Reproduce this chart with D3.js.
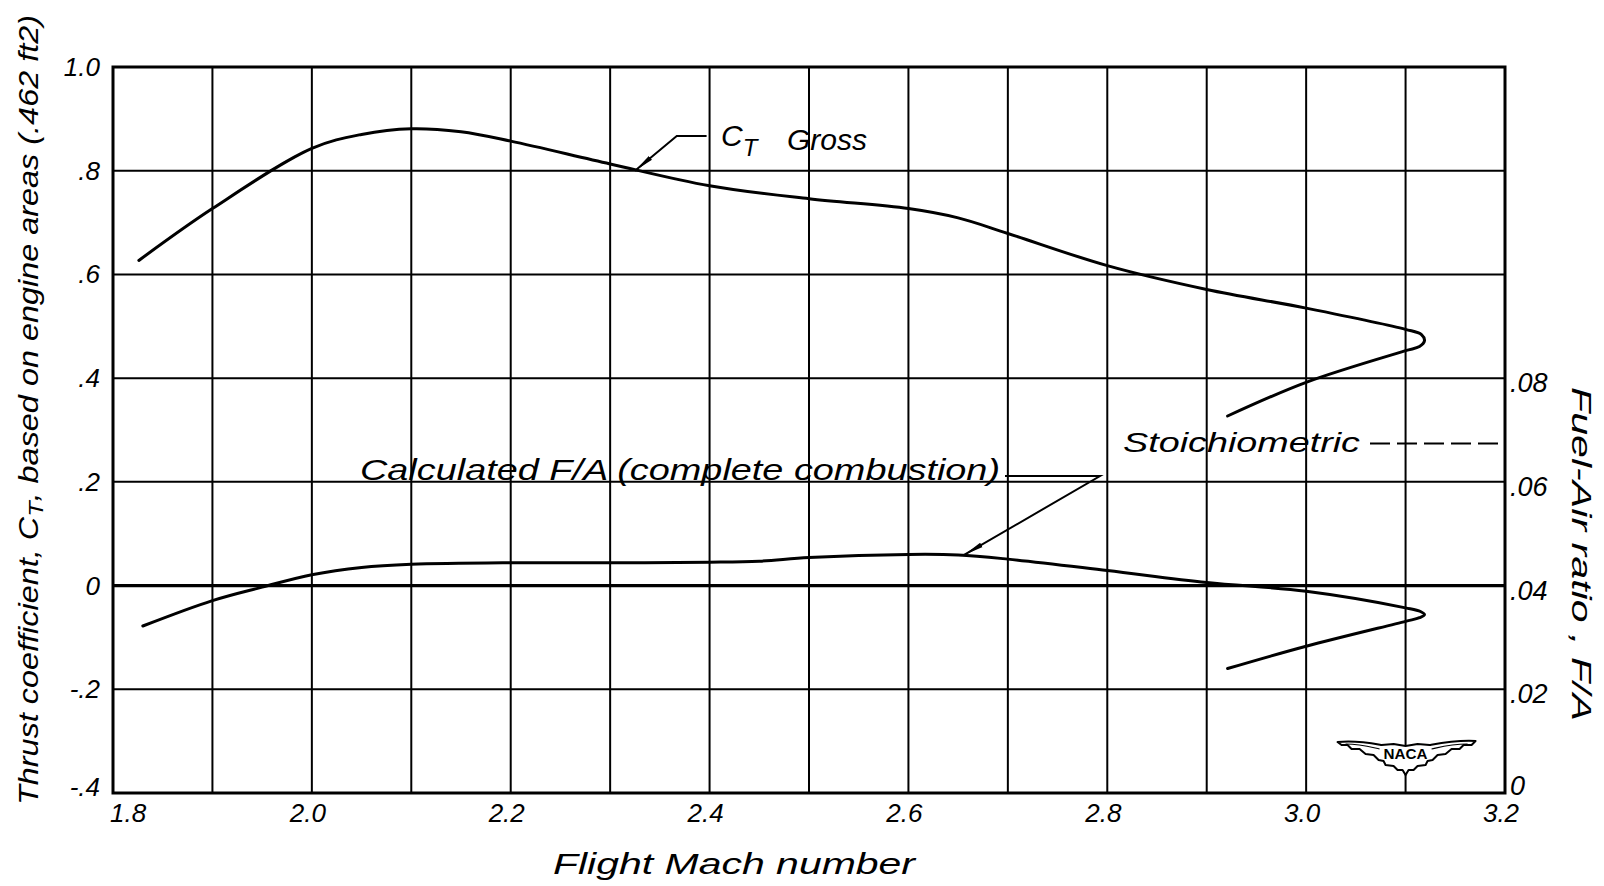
<!DOCTYPE html>
<html>
<head>
<meta charset="utf-8">
<script src="https://cdn.jsdelivr.net/npm/d3@7"></script>
<style>
  html, body { margin: 0; padding: 0; background: #fff; }
  svg { display: block; }
  text { font-family: "Liberation Sans", "DejaVu Sans", sans-serif; font-style: italic; fill: #000; }
</style>
</head>
<body>
<svg id="chart" width="1604" height="886"></svg>
<script>
// ---------- data ----------
// C_T gross (left axis), traced along the drawn path (it folds back near M = 3.12)
const ctMach  = [1.826, 1.9, 2.0, 2.05, 2.1, 2.15, 2.2, 2.3, 2.4, 2.5, 2.6, 2.65, 2.7, 2.8, 2.9, 3.0, 3.1, 3.116, 3.119, 3.114, 3.1, 3.0, 2.921];
const ctGross = [0.627, 0.727, 0.843, 0.870, 0.881, 0.875, 0.857, 0.813, 0.771, 0.746, 0.727, 0.709, 0.679, 0.617, 0.571, 0.535, 0.494, 0.484, 0.472, 0.461, 0.453, 0.392, 0.327];

// Calculated fuel-air ratio (right axis), traced along the drawn path
const faMach  = [1.830, 1.9, 1.95, 2.0, 2.05, 2.1, 2.2, 2.3, 2.4, 2.45, 2.5, 2.6, 2.65, 2.7, 2.8, 2.9, 3.0, 3.1, 3.115, 3.119, 3.114, 3.1, 3.0, 2.921];
const faRatio = [0.0322, 0.0371, 0.0397, 0.0421, 0.0435, 0.0441, 0.0444, 0.0444, 0.0445, 0.0447, 0.0454, 0.0460, 0.0459, 0.0451, 0.0429, 0.0406, 0.0389, 0.0357, 0.0350, 0.0344, 0.0338, 0.0331, 0.0283, 0.0240];

const stoichFA = 0.0674;

// ---------- ticks ----------
const xGrid       = [1.8, 1.9, 2.0, 2.1, 2.2, 2.3, 2.4, 2.5, 2.6, 2.7, 2.8, 2.9, 3.0, 3.1, 3.2];
const xTickValues = [1.8, 2.0, 2.2, 2.4, 2.6, 2.8, 3.0, 3.2];
const xTickLabels = ["1.8", "2.0", "2.2", "2.4", "2.6", "2.8", "3.0", "3.2"];
const yLeftValues = [1.0, 0.8, 0.6, 0.4, 0.2, 0, -0.2, -0.4];
const yLeftLabels = ["1.0", ".8", ".6", ".4", ".2", "0", "-.2", "-.4"];
const yRightValues = [0.08, 0.06, 0.04, 0.02, 0];
const yRightLabels = [".08", ".06", ".04", ".02", "0"];

// ---------- layout ----------
const svg = d3.select("#chart");
const L = 113, R = 1505, T = 67, B = 793;

const x  = d3.scaleLinear().domain([1.8, 3.2]).range([L, R]);
const yL = d3.scaleLinear().domain([-0.4, 1.0]).range([B, T]);
const yR = d3.scaleLinear().domain([0, 0.14]).range([B, T]);

const g = svg.append("g");

// grid
g.selectAll("line.vg").data(xGrid).join("line")
  .attr("x1", d => x(d)).attr("x2", d => x(d))
  .attr("y1", T).attr("y2", B)
  .attr("stroke", "#000").attr("stroke-width", 2);

g.selectAll("line.hg").data(yLeftValues).join("line")
  .attr("x1", L).attr("x2", R)
  .attr("y1", d => yL(d)).attr("y2", d => yL(d))
  .attr("stroke", "#000").attr("stroke-width", d => d === 0 ? 3.2 : 2);

// frame
g.append("rect").attr("x", L).attr("y", T).attr("width", R - L).attr("height", B - T)
  .attr("fill", "none").attr("stroke", "#000").attr("stroke-width", 3);

// left tick labels
g.selectAll("text.yl").data(yLeftValues).join("text")
  .attr("x", 100)
  .attr("y", (d, i) => yL(d) + (d === -0.4 ? 3 : 9))
  .attr("text-anchor", "end")
  .attr("font-size", 26)
  .text((d, i) => yLeftLabels[i]);

// right tick labels
g.selectAll("text.yr").data(yRightValues).join("text")
  .attr("x", 1510)
  .attr("y", d => yR(d) + (d === 0 ? 2 : 14))
  .attr("text-anchor", "start")
  .attr("font-size", 27)
  .text((d, i) => yRightLabels[i]);

// bottom tick labels
g.selectAll("text.xt").data(xTickValues).join("text")
  .attr("x", d => d === 1.8 ? x(d) - 3 : x(d) - 4)
  .attr("y", 822)
  .attr("text-anchor", d => d === 1.8 ? "start" : "middle")
  .attr("font-size", 26)
  .text((d, i) => xTickLabels[i]);

// axis titles
const yt = svg.append("text")
  .attr("transform", "translate(38,410) rotate(-90)")
  .attr("text-anchor", "middle")
  .attr("font-size", 27)
  .attr("textLength", 790).attr("lengthAdjust", "spacingAndGlyphs");
yt.append("tspan").text("Thrust coefficient, C");
yt.append("tspan").attr("baseline-shift", "-25%").attr("font-size", 21).text("T");
yt.append("tspan").text(", based on engine areas (.462 ft2)");

svg.append("text")
  .attr("transform", "translate(1572,554) rotate(90)")
  .attr("text-anchor", "middle")
  .attr("font-size", 27)
  .attr("textLength", 334).attr("lengthAdjust", "spacingAndGlyphs")
  .text("Fuel-Air  ratio , F/A");

svg.append("text")
  .attr("x", 734).attr("y", 874)
  .attr("text-anchor", "middle")
  .attr("font-size", 29)
  .attr("textLength", 362).attr("lengthAdjust", "spacingAndGlyphs")
  .text("Flight  Mach  number");

// ---------- curves ----------
const lineCT = d3.line()
  .x((d, i) => x(ctMach[i]))
  .y((d, i) => yL(ctGross[i]))
  .curve(d3.curveCatmullRom.alpha(0.5));

const lineFA = d3.line()
  .x((d, i) => x(faMach[i]))
  .y((d, i) => yR(faRatio[i]))
  .curve(d3.curveCatmullRom.alpha(0.5));

g.append("path").attr("d", lineCT(ctMach))
  .attr("fill", "none").attr("stroke", "#000").attr("stroke-width", 3)
  .attr("stroke-linejoin", "round").attr("stroke-linecap", "round");

g.append("path").attr("d", lineFA(faMach))
  .attr("fill", "none").attr("stroke", "#000").attr("stroke-width", 3)
  .attr("stroke-linejoin", "round").attr("stroke-linecap", "round");

// stoichiometric dashed line to right axis
g.append("line")
  .attr("x1", 1370).attr("x2", R)
  .attr("y1", yR(stoichFA)).attr("y2", yR(stoichFA))
  .attr("stroke", "#000").attr("stroke-width", 2)
  .attr("stroke-dasharray", "20,7");

svg.append("text")
  .attr("x", 1123).attr("y", yR(stoichFA) + 9)
  .attr("font-size", 28)
  .attr("textLength", 237).attr("lengthAdjust", "spacingAndGlyphs")
  .text("Stoichiometric");

// ---------- annotations ----------
svg.append("defs").append("marker")
  .attr("id", "arr").attr("viewBox", "0 0 20 6")
  .attr("refX", 0).attr("refY", 3)
  .attr("markerWidth", 20).attr("markerHeight", 6)
  .attr("markerUnits", "userSpaceOnUse")
  .attr("orient", "auto")
  .append("path").attr("d", "M0,3 L20,0.5 L20,5.5 Z").attr("fill", "#000");

// C_T Gross leader
const ctTip = [x(2.325), yL(0.8)];
g.append("path")
  .attr("d", `M${ctTip[0]},${ctTip[1]} L${x(2.367)},${T + 69} L${x(2.397)},${T + 69}`)
  .attr("fill", "none").attr("stroke", "#000").attr("stroke-width", 2)
  .attr("marker-start", "url(#arr)");

const ctLabel = svg.append("text").attr("x", 721).attr("y", 146).attr("font-size", 30);
ctLabel.append("tspan").text("C");
ctLabel.append("tspan").attr("dy", 10).attr("font-size", 24).text("T");
ctLabel.append("tspan").attr("x", 787).attr("dy", -6).text("Gross");

// Calculated F/A leader
const faTip = [x(2.656), yR(0.0459)];
g.append("path")
  .attr("d", `M${faTip[0]},${faTip[1]} L1100,476 L1005,476`)
  .attr("fill", "none").attr("stroke", "#000").attr("stroke-width", 2)
  .attr("marker-start", "url(#arr)");

svg.append("text")
  .attr("x", 360).attr("y", 480)
  .attr("font-size", 29)
  .attr("textLength", 640).attr("lengthAdjust", "spacingAndGlyphs")
  .text("Calculated  F/A   (complete  combustion)");

// ---------- NACA logo ----------
const cx = x(3.1), cy = yL(-0.4) - 38;
const logo = svg.append("g").attr("transform", `translate(${cx},${cy})`);
logo.append("path")
  .attr("d", "M-68,-13 C-50,-15 -35,-12 -24,-10 L-12,-11 L0,-9 L12,-11 L24,-10 C35,-12 50,-15 70,-14 L66,-10 L58,-10 L54,-6 L46,-6 L40,-1 L32,0 L27,5 L22,6 L20,10 L12,11 L8,15 L3,15 L0,20 L-3,15 L-8,15 L-12,11 L-20,10 L-22,6 L-27,5 L-32,0 L-40,-1 L-46,-6 L-54,-6 L-58,-10 L-64,-10 Z")
  .attr("fill", "#fff").attr("stroke", "#000").attr("stroke-width", 2).attr("stroke-linejoin", "round");
logo.append("path")
  .attr("d", "M-60,-11 C-45,-11 -35,-8 -26,-6 M26,-6 C35,-8 45,-11 62,-11")
  .attr("fill", "none").attr("stroke", "#000").attr("stroke-width", 1.2);
logo.append("text")
  .attr("x", 0).attr("y", 4)
  .attr("text-anchor", "middle")
  .attr("font-size", 14).attr("font-weight", "bold")
  .attr("textLength", 44).attr("lengthAdjust", "spacingAndGlyphs")
  .style("font-style", "normal")
  .text("NACA");
</script>
</body>
</html>
